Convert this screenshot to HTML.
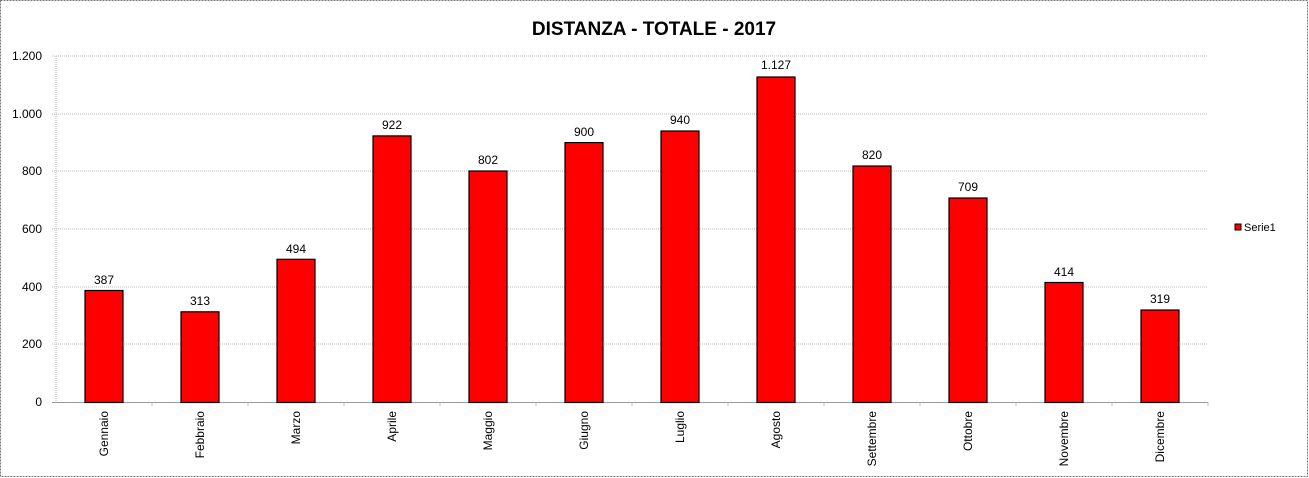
<!DOCTYPE html>
<html><head><style>body{margin:0;background:#fff}svg{display:block}</style></head><body>
<svg width="1309" height="478" xmlns="http://www.w3.org/2000/svg" font-family="Liberation Sans, sans-serif">
<rect x="0.5" y="0.5" width="1307" height="476" fill="#fff" stroke="#777" stroke-dasharray="2,1"/>
<text x="654" y="35" text-anchor="middle" font-size="19" font-weight="bold">DISTANZA - TOTALE - 2017</text>
<g stroke="#bbb" stroke-dasharray="1,1">
<line x1="52" y1="56" x2="1208" y2="56"/><line x1="52" y1="114" x2="1208" y2="114"/>
<line x1="52" y1="171" x2="1208" y2="171"/><line x1="52" y1="229" x2="1208" y2="229"/>
<line x1="52" y1="287" x2="1208" y2="287"/><line x1="52" y1="344" x2="1208" y2="344"/>
<line x1="56" y1="56" x2="56" y2="402"/>
</g>
<line x1="52" y1="402.5" x2="1208" y2="402.5" stroke="#999"/>
<g stroke="#bbb">
<line x1="152" y1="402" x2="152" y2="406"/><line x1="248" y1="402" x2="248" y2="406"/><line x1="344" y1="402" x2="344" y2="406"/><line x1="440" y1="402" x2="440" y2="406"/><line x1="536" y1="402" x2="536" y2="406"/><line x1="632" y1="402" x2="632" y2="406"/><line x1="728" y1="402" x2="728" y2="406"/><line x1="824" y1="402" x2="824" y2="406"/><line x1="920" y1="402" x2="920" y2="406"/><line x1="1016" y1="402" x2="1016" y2="406"/><line x1="1112" y1="402" x2="1112" y2="406"/><line x1="1208" y1="402" x2="1208" y2="406"/>
</g>
<g font-size="12" text-anchor="end" fill="#000">
<text x="42" y="60">1.200</text><text x="42" y="118">1.000</text><text x="42" y="175">800</text>
<text x="42" y="233">600</text><text x="42" y="291">400</text><text x="42" y="348">200</text><text x="42" y="406">0</text>
</g>
<g fill="#f00" stroke="#000" stroke-width="1.2">
<rect x="85" y="290.5" width="38" height="112"/>
<rect x="181" y="311.8" width="38" height="90.7"/>
<rect x="277" y="259.3" width="38" height="143.2"/>
<rect x="373" y="135.9" width="38" height="266.6"/>
<rect x="469" y="171" width="38" height="231.5"/>
<rect x="565" y="142.6" width="38" height="259.9"/>
<rect x="661" y="131" width="38" height="271.5"/>
<rect x="757" y="77" width="38" height="325.5"/>
<rect x="853" y="166" width="38" height="236.5"/>
<rect x="949" y="198" width="38" height="204.5"/>
<rect x="1045" y="282.5" width="38" height="120"/>
<rect x="1141" y="310" width="38" height="92.5"/>
</g>
<g font-size="12" text-anchor="middle">
<text x="104" y="284">387</text><text x="200" y="305">313</text><text x="296" y="253">494</text>
<text x="392" y="129">922</text><text x="488" y="164">802</text><text x="584" y="136">900</text>
<text x="680" y="124">940</text><text x="776" y="69">1.127</text><text x="872" y="159">820</text>
<text x="968" y="191">709</text><text x="1064" y="276">414</text><text x="1160" y="303">319</text>
</g>
<g font-size="12" text-anchor="end">
<text transform="translate(108,411) rotate(-90)">Gennaio</text>
<text transform="translate(204,411) rotate(-90)">Febbraio</text>
<text transform="translate(300,411) rotate(-90)">Marzo</text>
<text transform="translate(396,411) rotate(-90)">Aprile</text>
<text transform="translate(492,411) rotate(-90)">Maggio</text>
<text transform="translate(588,411) rotate(-90)">Giugno</text>
<text transform="translate(684,411) rotate(-90)">Luglio</text>
<text transform="translate(780,411) rotate(-90)">Agosto</text>
<text transform="translate(876,411) rotate(-90)">Settembre</text>
<text transform="translate(972,411) rotate(-90)">Ottobre</text>
<text transform="translate(1068,411) rotate(-90)">Novembre</text>
<text transform="translate(1164,411) rotate(-90)">Dicembre</text>
</g>
<rect x="1235" y="224" width="6" height="6" fill="#f00" stroke="#000"/>
<text x="1244" y="231" font-size="11">Serie1</text>
</svg>
</body></html>
